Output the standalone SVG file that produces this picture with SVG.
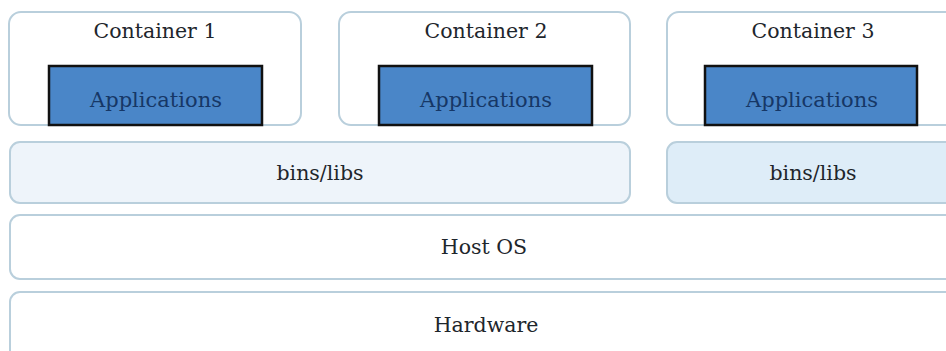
<svg xmlns="http://www.w3.org/2000/svg" width="946" height="351" viewBox="0 0 946 351">
<style>
.box{fill:#ffffff;stroke:#b9cfdc;stroke-width:2}
.app{fill:#4a86c8;stroke:#111111;stroke-width:2.5}
.t{font-family:"DejaVu Serif","Liberation Serif",serif;font-size:20.5px;fill:#1e262c;text-anchor:middle;dominant-baseline:central}
.ta{font-family:"DejaVu Serif","Liberation Serif",serif;font-size:21px;fill:#163766;text-anchor:middle;dominant-baseline:central}
</style>
<rect width="946" height="351" fill="#ffffff"/>
<g id="container1">
<rect class="box" x="9" y="12" width="292" height="113" rx="12"/>
<text class="t" x="155" y="31">Container 1</text>
<g id="apps1"><rect class="app" x="49" y="66" width="213" height="59"/>
<text class="ta" x="156" y="100">Applications</text></g>
</g>
<g id="container2">
<rect class="box" x="339" y="12" width="291" height="113" rx="12"/>
<text class="t" x="486" y="31">Container 2</text>
<g id="apps2"><rect class="app" x="379" y="66" width="213" height="59"/>
<text class="ta" x="486" y="100">Applications</text></g>
</g>
<g id="container3">
<rect class="box" x="667" y="12" width="300" height="113" rx="12"/>
<text class="t" x="813" y="31">Container 3</text>
<g id="apps3"><rect class="app" x="705" y="66" width="212" height="59"/>
<text class="ta" x="812" y="100">Applications</text></g>
</g>
<g id="bins1">
<rect class="box" x="10" y="142" width="620" height="61" rx="10" style="fill:#eef4fa"/>
<text class="t" x="320" y="173">bins/libs</text>
</g>
<g id="bins2">
<rect class="box" x="667" y="142" width="300" height="61" rx="10" style="fill:#deedf8"/>
<text class="t" x="813" y="173">bins/libs</text>
</g>
<g id="hostos">
<rect class="box" x="10" y="215" width="960" height="64" rx="10"/>
<text class="t" x="484" y="247">Host OS</text>
</g>
<g id="hardware">
<rect class="box" x="10" y="292" width="960" height="80" rx="10"/>
<text class="t" x="486" y="325">Hardware</text>
</g>
<g id="connectors"></g>
</svg>
